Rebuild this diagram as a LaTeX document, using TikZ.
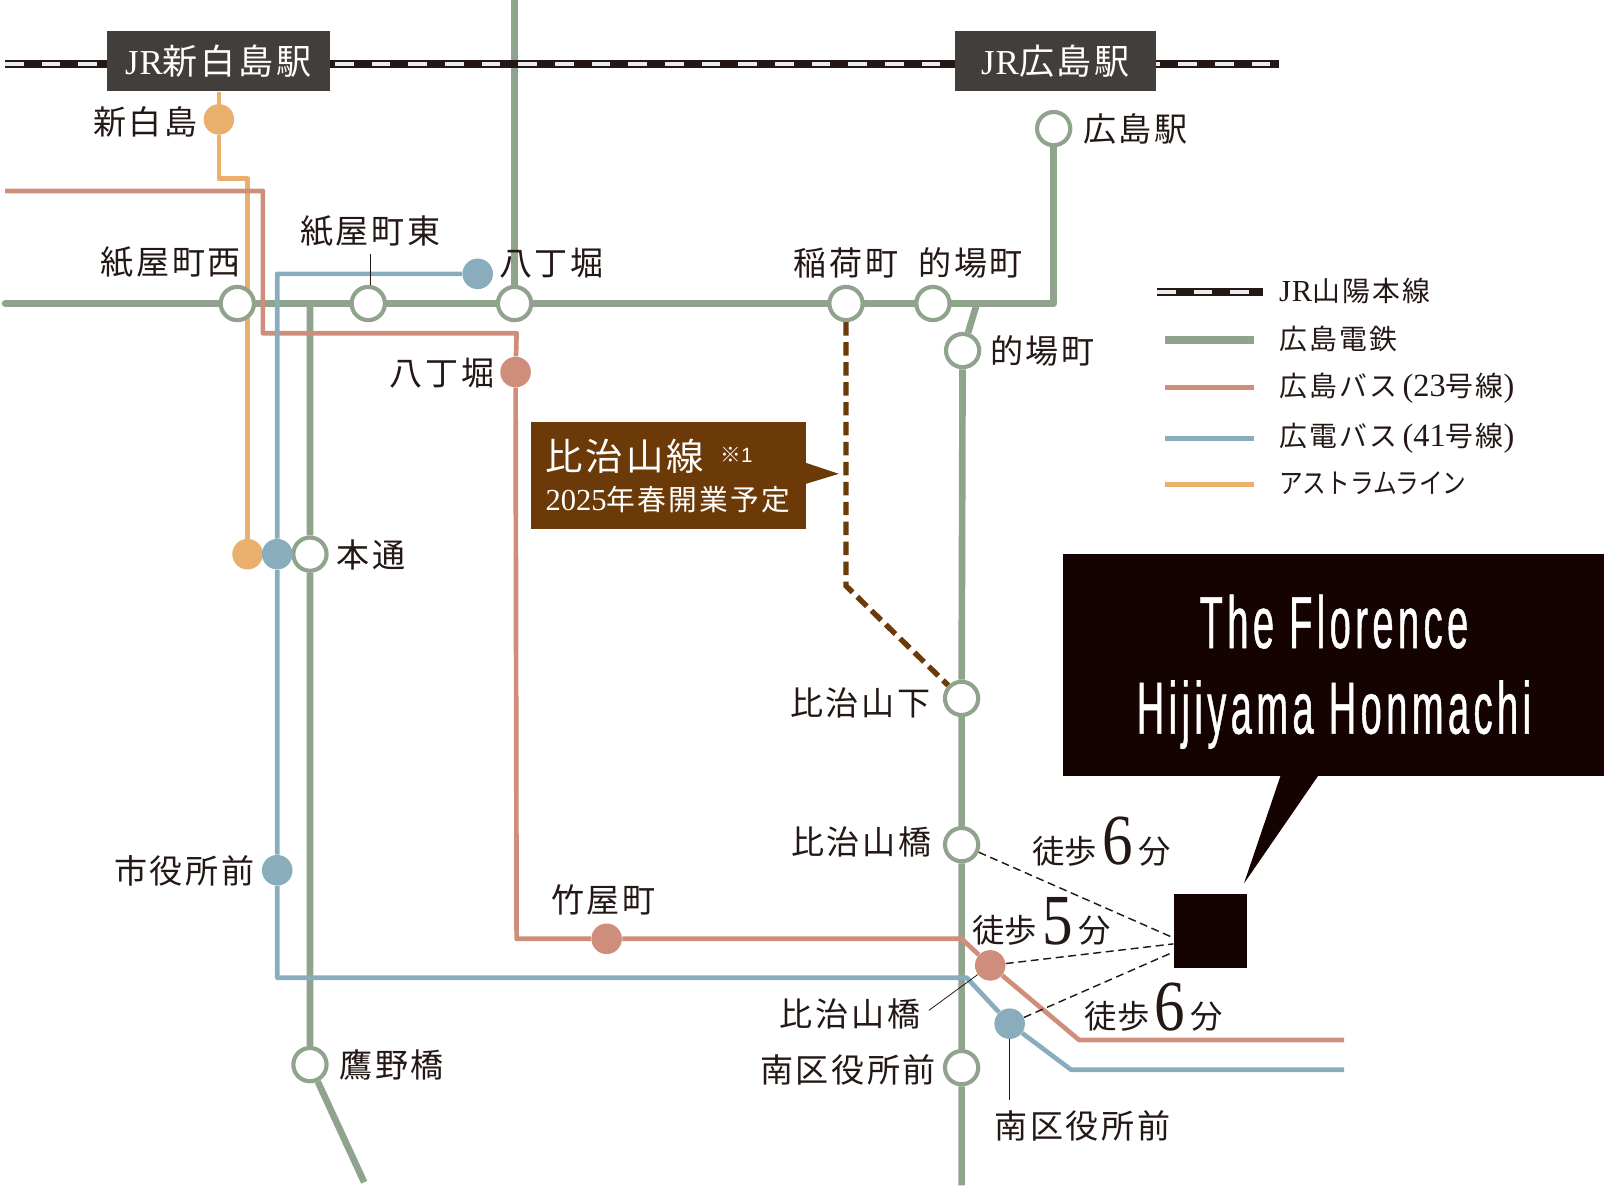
\documentclass[tikz,border=0pt]{standalone}
\usepackage{fontspec}
\usepackage{xcolor}
\usetikzlibrary{arrows}
\newfontfamily\jpfont[LetterSpace=8]{Noto Sans CJK JP}
\newfontfamily\jptight{Noto Sans CJK JP}
\newfontfamily\kanafont[FakeStretch=0.85]{Noto Sans CJK JP}
\newfontfamily\latfont{Liberation Serif}
\newfontfamily\numfont[FakeStretch=0.85]{Liberation Serif}
\newfontfamily\namefont[FakeStretch=0.517,LetterSpace=6,FakeBold=0.6]{Liberation Sans}
\newfontfamily\notefont{Liberation Sans}
\definecolor{railgreen}{HTML}{8FA38D}
\definecolor{bussalmon}{HTML}{CF8D7B}
\definecolor{busblue}{HTML}{89ADBC}
\definecolor{astorange}{HTML}{E8B06C}
\definecolor{hijibrown}{HTML}{6B3A08}
\definecolor{jrgrey}{HTML}{423E3C}
\definecolor{nightblack}{HTML}{150302}
\definecolor{inkblack}{HTML}{231815}
\pgfdeclarelayer{background}
\pgfsetlayers{background,main}
\tikzset{
    tnode/.style = {align=center, inner sep=0pt, text centered},
    ring_node/.style = {tnode, circle, draw=railgreen, fill=white, line width=2.3pt, minimum size=18.5pt},
    dot_salmon/.style = {tnode, circle, fill=bussalmon, minimum size=17pt},
    dot_blue/.style = {tnode, circle, fill=busblue, minimum size=17pt},
    dot_orange/.style = {tnode, circle, fill=astorange, minimum size=17pt},
    stn_label/.style = {tnode, text=inkblack, font=\jpfont\fontsize{18.4}{20}\selectfont},
    key_label/.style = {tnode, anchor=west, text=inkblack, font=\jpfont\fontsize{15.5}{18}\selectfont},
    walk_label/.style = {tnode, text=inkblack, font=\jptight\fontsize{18}{20}\selectfont},
    jr_box/.style = {tnode, fill=jrgrey, text=white, anchor=north west, minimum height=33.6pt, font=\jpfont\fontsize{19.5}{20}\selectfont},
    green_line/.style = {draw=railgreen, line width=3.7pt, line join=round},
    salmon_line/.style = {draw=bussalmon, line width=2.6pt, line join=round},
    blue_line/.style = {draw=busblue, line width=2.6pt, line join=round},
    orange_line/.style = {draw=astorange, line width=2.6pt, line join=round},
    brown_line/.style = {draw=hijibrown, line width=3pt, dash pattern=on 7.5pt off 3.6pt},
    rail_base/.style = {draw=inkblack, line width=4.3pt},
    rail_dash/.style = {draw=white!92!black, line width=2pt, dash pattern=on 10.4pt off 10pt},
    walk_line/.style = {draw=inkblack, line width=0.8pt, dash pattern=on 4.4pt off 2.6pt},
    lead_line/.style = {draw=inkblack, line width=0.45pt}
}
\newcommand{\bignum}[1]{\raisebox{-1pt}{\numfont\fontsize{40}{40}\selectfont #1}}
\begin{document}
\begin{tikzpicture}[x=0.02cm, y=-0.02cm]
    \useasboundingbox (0,-0.7) rectangle (1568,1159.7);

    \node (jr_shiro) [jr_box, minimum width=124.1pt] at (104,29.3) {{\latfont J\kern0.5pt R}新白島駅};
    \node (jr_hiro) [jr_box, minimum width=112.1pt] at (933,29.3) {{\latfont J\kern0.5pt R}広島駅};

    \node (s_kamin) [ring_node] at (232,296) {};
    \node (s_kameast) [ring_node] at (360,296) {};
    \node (s_hatcho) [ring_node] at (503,296) {};
    \node (s_inari) [ring_node] at (827,296) {};
    \node (s_mato) [ring_node] at (912,296) {};
    \node (s_hirost) [ring_node] at (1030,125) {};
    \node (s_mato2) [ring_node] at (941,342) {};
    \node (s_hondori) [ring_node] at (303,541) {};
    \node (s_hijishita) [ring_node] at (940,682) {};
    \node (s_hijibashi) [ring_node] at (940,825) {};
    \node (s_minami) [ring_node] at (940,1043) {};
    \node (s_takano) [ring_node] at (303,1040) {};

    \node (o_shiro) [dot_orange] at (214,116) {};
    \node (o_hondori) [dot_orange] at (242,541) {};
    \node (b_hatcho) [dot_blue] at (467,267) {};
    \node (b_hondori) [dot_blue] at (271,541) {};
    \node (b_shiyaku) [dot_blue] at (271,850) {};
    \node (b_minami) [dot_blue] at (987,1000) {};
    \node (r_hatcho) [dot_salmon] at (504,363) {};
    \node (r_takeya) [dot_salmon] at (593,917) {};
    \node (r_hiji) [dot_salmon] at (968,943) {};

    \coordinate (g_west) at (5,296);
    \coordinate (g_north) at (503,-2);
    \coordinate (g_corner) at (1030,296);
    \coordinate (g_branch) at (955,296);
    \coordinate (g_south) at (940,1158);
    \coordinate (g_fork) at (303,296);
    \coordinate (g_end) at (356,1155);
    \coordinate (r_west) at (5,186);
    \coordinate (r_c1) at (257,186);
    \coordinate (r_c2) at (257,325);
    \coordinate (r_c3) at (505,325);
    \coordinate (r_c4) at (505,917);
    \coordinate (r_c5) at (940,917);
    \coordinate (r_c6) at (1055,1016);
    \coordinate (r_east) at (1314,1016);
    \coordinate (b_c1) at (271,267);
    \coordinate (b_c2) at (271,955);
    \coordinate (b_c3) at (945,955);
    \coordinate (b_c4) at (1047,1045);
    \coordinate (b_east) at (1314,1045);
    \coordinate (o_top) at (214,89);
    \coordinate (o_c1) at (214,174);
    \coordinate (o_c2) at (242,174);
    \coordinate (h_corner) at (827,572);
    \coordinate (rail_w) at (5,62);
    \coordinate (rail_e) at (1250,62);

    \begin{pgfonlayer}{background}
        \draw [green_line, line cap=round] (g_west) -- (s_kamin) -- (s_kameast) -- (s_hatcho) -- (s_inari) -- (s_mato) -- (g_corner) -- (s_hirost);
        \draw [green_line] (g_north) -- (s_hatcho);
        \draw [green_line] (g_branch) -- (s_mato2) -- (s_hijishita) -- (s_hijibashi) -- (s_minami) -- (g_south);
        \draw [green_line] (g_fork) -- (s_hondori) -- (s_takano) -- (g_end);
        \draw [orange_line] (o_top) -- (o_shiro) -- (o_c1) -- (o_c2) -- (o_hondori);
        \draw [salmon_line] (r_west) -- (r_c1) -- (r_c2) -- (r_c3) -- (r_hatcho) -- (r_c4) -- (r_takeya) -- (r_c5) -- (r_hiji) -- (r_c6) -- (r_east);
        \draw [blue_line] (b_hatcho) -- (b_c1) -- (b_hondori) -- (b_shiyaku) -- (b_c2) -- (b_c3) -- (b_minami) -- (b_c4) -- (b_east);
        \draw [brown_line] (s_inari) -- (h_corner) -- (s_hijishita);
        \draw [rail_base] (rail_w) -- (rail_e);
        \draw [rail_dash] (rail_w) -- (rail_e);
    \end{pgfonlayer}

    \node (l_shiro) [stn_label] at (142,118) {新白島};
    \node (l_kamin) [stn_label] at (167,256) {紙屋町西};
    \node (l_kameast) [stn_label] at (362,225) {紙屋町東};
    \node (l_hatcho) [stn_label] at (539,257) {八丁堀};
    \node (l_hatcho2) [stn_label] at (432,364) {八丁堀};
    \node (l_inari) [stn_label] at (827,256) {稲荷町};
    \node (l_mato) [stn_label] at (949,256) {的場町};
    \node (l_hirost) [stn_label] at (1110,125) {広島駅};
    \node (l_mato2) [stn_label] at (1019,342) {的場町};
    \node (l_hondori) [stn_label] at (363,542) {本通};
    \node (l_hijishita) [stn_label] at (841,686) {比治山下};
    \node (l_hijibashi) [stn_label] at (842,822) {比治山橋};
    \node (l_shiyaku) [stn_label] at (180,851) {市役所前};
    \node (l_takeya) [stn_label] at (590,879) {竹屋町};
    \node (l_hiji) [stn_label] at (831,990) {比治山橋};
    \node (l_minami) [stn_label] at (829,1045) {南区役所前};
    \node (l_minami2) [stn_label] at (1058,1100) {南区役所前};
    \node (l_takano) [stn_label] at (383,1040) {鷹野橋};

    \coordinate (t_kameast) at (362,248);
    \coordinate (t_hiji) at (908,987);
    \coordinate (t_minami) at (987,1075);
    \draw [lead_line] (t_kameast) -- (t_kameast |- s_kameast.north);
    \draw [lead_line] (t_hiji) -- (r_hiji);
    \draw [lead_line] (b_minami) -- (t_minami);

    \node (callout) [fill=hijibrown, anchor=north west, minimum width=153pt, minimum height=59.8pt, inner sep=0pt] at (519,411.3) {};
    \fill [hijibrown] (787,451.5) -- (820,462.5) -- (787,472.5) -- cycle;
    \node (c_title) [tnode, anchor=west, text=white, font=\jpfont\fontsize{20.8}{24}\selectfont] at (533,445) {比治山線};
    \node (c_note) [tnode, anchor=west, text=white, font=\notefont\fontsize{11.5}{12}\selectfont] at (704,444) {{\jptight ※}1};
    \node (c_date) [tnode, anchor=west, text=white, font=\jpfont\fontsize{16}{18}\selectfont] at (533,488) {{\latfont\fontsize{17}{18}\selectfont 2025}年春開業予定};

    \node (nameplate) [fill=nightblack, anchor=north west, minimum width=301pt, minimum height=123.5pt, inner sep=0pt] at (1039,540.3) {};
    \node (name_text) [tnode, text=white, font=\namefont\fontsize{41}{47.6}\selectfont] at (1304,656) {The Florence\\Hijiyama Honmachi};
    \fill [nightblack] (1252,757) -- (1289,757) -- (1216,863) -- cycle;
    \node (site) [fill=nightblack, anchor=north west, minimum size=41pt, inner sep=0pt] at (1147,873.3) {};

    \coordinate (w_a) at (1147,916);
    \coordinate (w_b) at (1147,922);
    \coordinate (w_c) at (1147,930);
    \draw [walk_line] (s_hijibashi) -- (w_a);
    \draw [walk_line] (r_hiji) -- (w_b);
    \draw [walk_line] (b_minami) -- (w_c);

    \node (w_six) [walk_label] at (1077,822) {徒歩\,\bignum{6}\,分};
    \node (w_five) [walk_label] at (1018,900) {徒歩\,\bignum{5}\,分};
    \node (w_sixb) [walk_label] at (1128,984) {徒歩\,\bignum{6}\,分};

    \coordinate (k_rail_w) at (1131,285);
    \coordinate (k_rail_e) at (1235,285);
    \draw [rail_base] (k_rail_w) -- (k_rail_e);
    \draw [rail_dash] (k_rail_w) -- (k_rail_e);
    \coordinate (k_a_w) at (1139,332);
    \coordinate (k_a_e) at (1226,332);
    \coordinate (k_b_w) at (1139,378);
    \coordinate (k_b_e) at (1226,378);
    \coordinate (k_c_w) at (1139,428);
    \coordinate (k_c_e) at (1226,428);
    \coordinate (k_d_w) at (1139,473);
    \coordinate (k_d_e) at (1226,473);
    \draw [green_line, line width=4.5pt] (k_a_w) -- (k_a_e);
    \draw [salmon_line] (k_b_w) -- (k_b_e);
    \draw [blue_line] (k_c_w) -- (k_c_e);
    \draw [orange_line] (k_d_w) -- (k_d_e);
    \node (k_jr) [key_label] at (1250,284) {{\latfont\fontsize{17}{18}\selectfont J\kern0.5pt R}山陽本線};
    \node (k_tram) [key_label] at (1250,331) {広島電鉄};
    \node (k_hbus) [key_label] at (1250,379) {広島バス{\latfont\fontsize{18}{18}\selectfont\,(23}号線{\latfont\fontsize{18}{18}\selectfont )}};
    \node (k_dbus) [key_label] at (1250,428) {広電バス{\latfont\fontsize{18}{18}\selectfont\,(41}号線{\latfont\fontsize{18}{18}\selectfont )}};
    \node (k_astram) [key_label] at (1250,472) {{\kanafont アストラムライン}};
\end{tikzpicture}
\end{document}
